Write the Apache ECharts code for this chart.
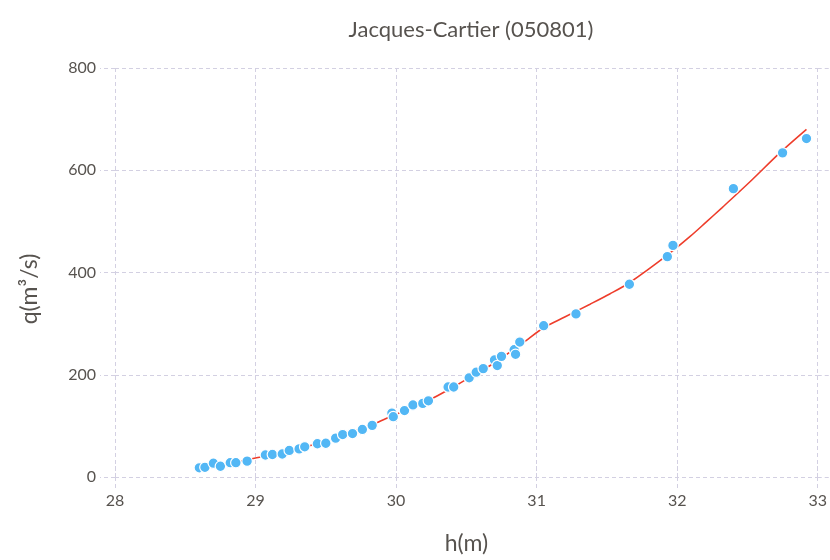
<!DOCTYPE html>
<html>
<head>
<meta charset="utf-8">
<script src="https://cdn.jsdelivr.net/npm/echarts@6/dist/echarts.min.js"></script>
<style>
  html, body { margin: 0; padding: 0; background: #ffffff; }
  #chart { width: 830px; height: 560px; }
</style>
</head>
<body>
<div id="chart"></div>
<script>
// Jacques-Cartier station 050801: measured stage (h) vs discharge (q)
const stationTitle = 'Jacques-Cartier (050801)';
const xAxisName = 'h(m)';
const yAxisName = 'q(m³/s)';

// Gauging measurements
const gaugeH = [
  28.60, 28.64, 28.70, 28.75, 28.82, 28.86, 28.94, 29.07, 29.12, 29.19,
  29.24, 29.31, 29.35, 29.44, 29.50, 29.57, 29.62, 29.69, 29.76, 29.83,
  29.97, 29.98, 30.06, 30.12, 30.19, 30.23, 30.37, 30.41, 30.52, 30.57,
  30.62, 30.70, 30.72, 30.75, 30.84, 30.85, 30.88, 31.05, 31.28, 31.66,
  31.93, 31.97, 32.40, 32.75, 32.92
];
const gaugeQ = [
  18, 19, 27, 21, 28, 28, 31, 43, 44, 45,
  52, 55, 59, 65, 66, 76, 83, 85, 93, 101,
  125, 118, 130, 141, 144, 149, 176, 176, 194, 205,
  212, 229, 218, 236, 249, 240, 264, 296, 319, 377,
  431, 453, 564, 634, 662
];

// Rating curve (stage, discharge) pairs
const curveH = [
  28.60, 28.80, 29.00, 29.25, 29.50, 29.83, 29.91, 30.10, 30.26, 30.47,
  30.67, 30.90, 31.05, 31.20, 31.38, 31.52, 31.66, 31.93, 32.09, 32.20,
  32.32, 32.52, 32.73, 32.92
];
const curveQ = [
  17, 26, 37, 52, 70, 102, 112, 134, 154, 186,
  218, 262, 292, 313, 338, 358, 380, 434, 470, 497,
  527, 578, 634, 680
];

// Axis ticks
const xTicks = [28, 29, 30, 31, 32, 33];
const yTicks = [0, 200, 400, 600, 800];

const gridColor = '#d3d0e2';
const textColor = '#57534f';
const fontFamily = 'Lato, "Open Sans", sans-serif';

const gaugePoints = gaugeH.map((h, i) => [h, gaugeQ[i]]);
const curvePoints = curveH.map((h, i) => [h, curveQ[i]]);

const dashed = { color: gridColor, width: 1, type: [4, 3] };

const chart = echarts.init(document.getElementById('chart'), null, { renderer: 'canvas' });
chart.setOption({
  animation: false,
  backgroundColor: '#ffffff',
  textStyle: { fontFamily: fontFamily },
  title: {
    text: stationTitle,
    left: 466,
    top: 14,
    textAlign: 'center',
    textStyle: { fontFamily: fontFamily, fontSize: 22, fontWeight: 'normal', color: textColor }
  },
  grid: { left: 115, right: 12, top: 68, bottom: 79, containLabel: false },
  xAxis: [
    {
      type: 'value',
      min: xTicks[0], max: xTicks[xTicks.length - 1], interval: 1,
      name: xAxisName,
      nameLocation: 'middle',
      nameGap: 55,
      nameTextStyle: { fontFamily: fontFamily, fontSize: 23, color: textColor },
      axisLine: { show: false },
      axisTick: { show: true, length: 12, lineStyle: dashed },
      axisLabel: { margin: 16, fontSize: 16, color: textColor, fontFamily: fontFamily },
      splitLine: { show: true, lineStyle: dashed }
    },
    {
      type: 'value', position: 'top',
      min: xTicks[0], max: xTicks[xTicks.length - 1], interval: 1,
      axisLine: { show: false },
      axisTick: { show: true, length: 12, lineStyle: dashed },
      axisLabel: { show: false },
      splitLine: { show: false }
    }
  ],
  yAxis: [
    {
      type: 'value',
      min: yTicks[0], max: yTicks[yTicks.length - 1], interval: 200,
      name: yAxisName,
      nameLocation: 'middle',
      nameGap: 74,
      nameTextStyle: { fontFamily: fontFamily, fontSize: 23, color: textColor, padding: [0, 33, 0, 0] },
      axisLine: { show: false },
      axisTick: { show: true, length: 15, lineStyle: dashed },
      axisLabel: { margin: 19, fontSize: 16, color: textColor, fontFamily: fontFamily },
      splitLine: { show: true, lineStyle: dashed }
    },
    {
      type: 'value', position: 'right',
      min: yTicks[0], max: yTicks[yTicks.length - 1], interval: 200,
      axisLine: { show: false },
      axisTick: { show: true, length: 12, lineStyle: dashed },
      axisLabel: { show: false },
      splitLine: { show: false }
    }
  ],
  series: [
    {
      name: 'courbe',
      type: 'line',
      data: curvePoints,
      smooth: 0.3,
      showSymbol: false,
      lineStyle: { color: '#ee3d2b', width: 1.6 },
      z: 2
    },
    {
      name: 'jaugeages',
      type: 'scatter',
      data: gaugePoints,
      symbol: 'circle',
      symbolSize: 10.5,
      itemStyle: { color: '#52b7f5', borderColor: '#ffffff', borderWidth: 1.2, opacity: 1 },
      z: 3
    }
  ]
});
</script>
</body>
</html>
